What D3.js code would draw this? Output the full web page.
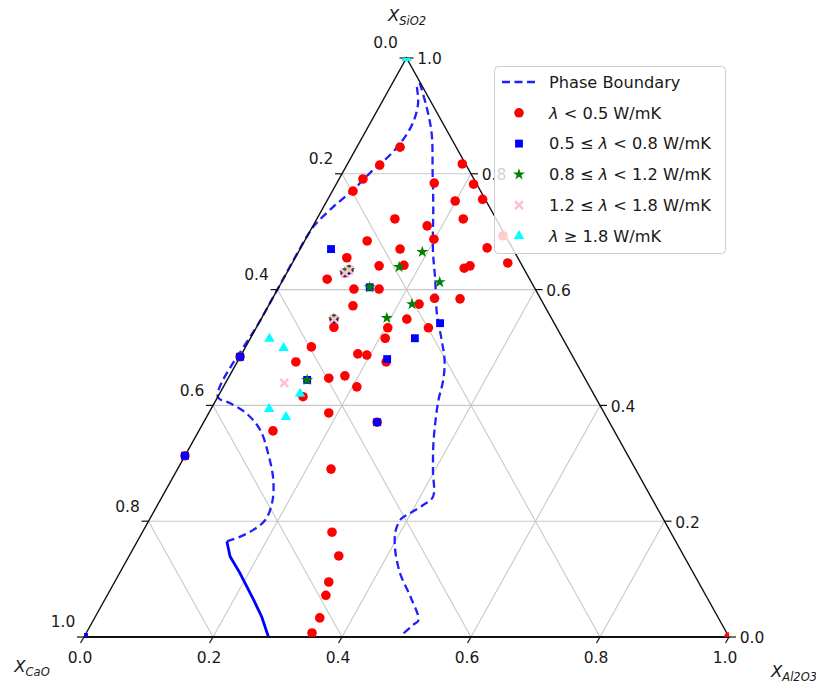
<!DOCTYPE html>
<html>
<head>
<meta charset="utf-8">
<script src="https://cdn.jsdelivr.net/npm/d3@7"></script>
<style>
  body { margin: 0; background: #fff; }
  svg { display: block; font-family: "DejaVu Sans", sans-serif; }
</style>
</head>
<body>
<svg id="chart" width="816" height="686"></svg>
<script>
// Compositions are [X_CaO, X_SiO2, X_Al2O3] mole fractions.
const lowK = [
  [0.087,0.846,0.067],[0.134,0.815,0.051],[0.172,0.791,0.037],[0.198,0.770,0.032],
  [0.005,0.817,0.178],[0.065,0.784,0.151],[0.005,0.782,0.213],[0.004,0.756,0.240],
  [0.048,0.753,0.199],[0.157,0.722,0.121],[0.113,0.710,0.177],[0.051,0.722,0.227],
  [0.114,0.687,0.199],[0.219,0.684,0.097],[0.175,0.670,0.155],[0.039,0.672,0.289],
  [0.265,0.655,0.080],[0.222,0.641,0.137],[0.183,0.642,0.175],[0.092,0.637,0.271],
  [0.081,0.641,0.278],[0.020,0.646,0.334],[0.004,0.693,0.303],[0.314,0.618,0.068],
  [0.281,0.601,0.118],[0.242,0.601,0.157],[0.297,0.572,0.131],[0.164,0.585,0.251],
  [0.125,0.584,0.291],[0.193,0.575,0.232],[0.225,0.549,0.226],[0.345,0.535,0.120],
  [0.262,0.534,0.204],[0.199,0.534,0.267],[0.275,0.516,0.209],[0.397,0.501,0.102],
  [0.331,0.489,0.180],[0.318,0.487,0.195],[0.294,0.475,0.231],[0.434,0.475,0.091],
  [0.397,0.447,0.156],[0.370,0.451,0.179],[0.361,0.432,0.207],[0.453,0.415,0.132],
  [0.427,0.387,0.186],[0.529,0.356,0.115],[0.472,0.290,0.238],[0.525,0.181,0.294],
  [0.535,0.140,0.325],[0.573,0.095,0.332],[0.589,0.072,0.339],[0.618,0.033,0.349],
  [0.643,0.007,0.350],[0.000,0.000,1.000],[0.516,0.484,0.000],[0.687,0.313,0.000],
  [0.272,0.634,0.094],[0.281,0.629,0.090],[0.338,0.549,0.113],[0.360,0.371,0.269]
];
const midLowK = [
  [0.282,0.670,0.048],[0.255,0.604,0.141],[0.177,0.542,0.281],[0.229,0.516,0.255],
  [0.290,0.480,0.230],[0.432,0.444,0.124],[0.360,0.371,0.269],[0.516,0.484,0.000],
  [0.687,0.313,0.000],[1.000,0.000,0.000],[0.272,0.634,0.094],[0.281,0.629,0.090],
  [0.338,0.549,0.113]
];
const midK = [
  [0.143,0.665,0.192],[0.192,0.639,0.169],[0.142,0.613,0.245],[0.204,0.575,0.221],
  [0.255,0.551,0.194],[0.255,0.604,0.141],[0.432,0.444,0.124],[0.272,0.634,0.094],
  [0.281,0.629,0.090],[0.338,0.549,0.113]
];
const midHighK = [
  [0.470,0.439,0.091],[0.272,0.634,0.094],[0.281,0.629,0.090],[0.338,0.549,0.113]
];
const highK = [
  [0.455,0.515,0.030],[0.441,0.499,0.060],[0.455,0.420,0.125],[0.516,0.394,0.090],
  [0.497,0.380,0.123],[0.000,1.000,0.000]
];

// Phase boundary traces
const boundaryDashed = [
  [0.009,0.950,0.041],[0.021,0.922,0.057],[0.046,0.888,0.066],[0.077,0.858,0.065],
  [0.110,0.832,0.058],[0.148,0.807,0.045],[0.197,0.772,0.031],[0.242,0.743,0.015],
  [0.286,0.712,0.002],[0.302,0.698,0.000],[0.450,0.550,0.000],[0.585,0.415,0.000],
  [0.572,0.404,0.024],[0.555,0.386,0.059],[0.548,0.358,0.094],[0.556,0.317,0.127],
  [0.571,0.271,0.158],[0.593,0.231,0.176],[0.618,0.202,0.180],[0.645,0.185,0.170],
  [0.672,0.173,0.155],[0.696,0.165,0.139]
];
const boundarySolid = [
  [0.696,0.165,0.139],[0.704,0.139,0.157],[0.703,0.110,0.187],[0.704,0.087,0.209],
  [0.705,0.064,0.231],[0.707,0.035,0.258],[0.714,0.000,0.286]
];
const boundaryRight = [
  [0.001,0.957,0.042],[0.011,0.916,0.073],[0.026,0.870,0.104],[0.059,0.801,0.140],
  [0.087,0.743,0.170],[0.125,0.668,0.207],[0.147,0.617,0.236],[0.173,0.560,0.267],
  [0.189,0.513,0.298],[0.202,0.478,0.320],[0.221,0.444,0.335],[0.246,0.409,0.345],
  [0.271,0.369,0.360],[0.294,0.329,0.377],[0.315,0.288,0.397],[0.338,0.242,0.420],
  [0.360,0.228,0.412],[0.387,0.214,0.399],[0.405,0.205,0.390],[0.424,0.185,0.391],
  [0.440,0.156,0.404],[0.455,0.110,0.435],[0.459,0.070,0.471],[0.467,0.029,0.504],
  [0.479,0.021,0.500],[0.502,0.006,0.492],[0.510,0.000,0.490]
];

const tickValues = [0, 0.2, 0.4, 0.6, 0.8, 1.0];
const gridValues = [0.2, 0.4, 0.6, 0.8];
const legendLabels = [
  "Phase Boundary",
  ["λ", " < 0.5 W/mK"],
  ["0.5 ≤ ", "λ", " < 0.8 W/mK"],
  ["0.8 ≤ ", "λ", " < 1.2 W/mK"],
  ["1.2 ≤ ", "λ", " < 1.8 W/mK"],
  ["λ", " ≥ 1.8 W/mK"]
];

const svg = d3.select("#chart");
const fmt = d3.format(".1f");

// Projection of the ternary simplex onto the page
const x = d3.scaleLinear().domain([0, 1]).range([84, 729]);
const y = d3.scaleLinear().domain([0, 1]).range([637, 58]);
const proj = ([c, s, a]) => [x(a + s / 2), y(s)];

svg.append("defs").append("clipPath").attr("id", "plotClip")
  .append("rect").attr("x", x(0)).attr("y", y(1))
  .attr("width", x(1) - x(0)).attr("height", y(0) - y(1));

// Grid
const grid = svg.append("g").attr("stroke", "#c8c8c8").attr("stroke-width", 1.1);
gridValues.forEach(v => {
  const segs = [
    [[1 - v, v, 0], [0, v, 1 - v]],
    [[1 - v, 0, v], [0, 1 - v, v]],
    [[v, 0, 1 - v], [v, 1 - v, 0]]
  ];
  segs.forEach(([p, q]) => {
    const [x1, y1] = proj(p), [x2, y2] = proj(q);
    grid.append("line").attr("x1", x1).attr("y1", y1).attr("x2", x2).attr("y2", y2);
  });
});

// Phase boundaries
const dash = "8,4.5";
const line = d3.line().x(d => proj(d)[0]).y(d => proj(d)[1]).curve(d3.curveCatmullRom.alpha(0.5));
const pb = svg.append("g").attr("clip-path", "url(#plotClip)").attr("fill", "none").attr("stroke", "#1f1fff");
pb.append("path").attr("d", line(boundaryDashed)).attr("stroke-width", 2.3).attr("stroke-dasharray", dash);
pb.append("path").attr("d", line(boundaryRight)).attr("stroke-width", 2.3).attr("stroke-dasharray", dash);
pb.append("path").attr("d", d3.line().x(d => proj(d)[0]).y(d => proj(d)[1])(boundarySolid))
  .attr("stroke-width", 2.8).attr("stroke", "#0000ff");

// Triangle outline
const corners = [[1, 0, 0], [0, 1, 0], [0, 0, 1]].map(proj);
svg.append("path")
  .attr("d", "M" + corners.map(p => p.join(",")).join("L") + "Z")
  .attr("fill", "none").attr("stroke", "#111").attr("stroke-width", 1.4);
svg.append("line").attr("x1", x(0)).attr("x2", x(1)).attr("y1", y(0)).attr("y2", y(0))
  .attr("stroke", "#111").attr("stroke-width", 2);

// Ticks and tick labels
const ticks = svg.append("g").attr("stroke", "#111").attr("stroke-width", 1.2);
const labels = svg.append("g").attr("font-size", 15.5).attr("fill", "#1a1a1a")
  .attr("text-anchor", "middle");
tickValues.forEach(v => {
  // left: X_CaO
  let [px, py] = proj([v, 1 - v, 0]);
  ticks.append("line").attr("x1", px).attr("y1", py).attr("x2", px - 7).attr("y2", py);
  labels.append("text").attr("x", px - 21).attr("y", py - 15).attr("dy", "0.35em").text(fmt(v));
  // right: X_SiO2
  [px, py] = proj([0, v, 1 - v]);
  ticks.append("line").attr("x1", px).attr("y1", py).attr("x2", px + 7).attr("y2", py);
  labels.append("text").attr("x", px + 23).attr("y", py + 1).attr("dy", "0.35em").text(fmt(v));
  // bottom: X_Al2O3
  [px, py] = proj([1 - v, 0, v]);
  ticks.append("line").attr("x1", px).attr("y1", py).attr("x2", px - 3.5).attr("y2", py + 6);
  labels.append("text").attr("x", px - 4).attr("y", py + 21).attr("dy", "0.35em").text(fmt(v));
});

// Corner titles
function cornerTitle(cx, cy, sub) {
  const t = svg.append("text").attr("x", cx).attr("y", cy).attr("text-anchor", "middle")
    .attr("font-style", "italic").attr("fill", "#1a1a1a");
  t.append("tspan").attr("font-size", 16.5).text("X");
  t.append("tspan").attr("font-size", 11.5).attr("dy", 4).text(sub);
}
cornerTitle(407, 21, "SiO2");
cornerTitle(32, 672, "CaO");
cornerTitle(794, 677, "Al2O3");

// Markers
const shapes = {
  circle: g => g.append("circle").attr("r", 4.8),
  square: g => g.append("path").attr("d", d3.symbol(d3.symbolSquare, 62)()),
  star: g => g.append("path").attr("d", d3.symbol(d3.symbolStar, 44)()),
  cross: g => g.append("path").attr("d", "M-4,-4L4,4M-4,4L4,-4")
    .attr("fill", "none").attr("stroke-width", 2.4),
  triangle: g => g.append("path").attr("d", d3.symbol(d3.symbolTriangle, 48)())
};
const series = [
  { data: lowK, color: "#ff0000", shape: "circle" },
  { data: midLowK, color: "#0000ff", shape: "square" },
  { data: midK, color: "#008000", shape: "star" },
  { data: midHighK, color: "#ffc0cb", shape: "cross" },
  { data: highK, color: "#00ffff", shape: "triangle" }
];
const markLayer = svg.append("g").attr("clip-path", "url(#plotClip)");
series.forEach(sr => {
  markLayer.append("g").selectAll("g").data(sr.data).join("g")
    .attr("transform", d => `translate(${proj(d)[0]},${proj(d)[1]})`)
    .attr("fill", sr.color).attr("stroke", sr.color)
    .each(function () {
      const node = shapes[sr.shape](d3.select(this));
      if (sr.shape !== "cross") node.attr("stroke", "none");
    });
});

// Legend
const lg = svg.append("g");
lg.append("rect").attr("x", 494.5).attr("y", 66.5).attr("width", 231).attr("height", 187)
  .attr("rx", 4).attr("fill", "#fff").attr("fill-opacity", 0.8)
  .attr("stroke", "#cccccc");
const rowY = i => 82 + i * 30.8;
lg.append("line").attr("x1", 502).attr("x2", 536).attr("y1", rowY(0)).attr("y2", rowY(0))
  .attr("stroke", "#1f1fff").attr("stroke-width", 2.3).attr("stroke-dasharray", dash);
series.forEach((sr, i) => {
  const g = lg.append("g").attr("transform", `translate(519,${rowY(i + 1)})`)
    .attr("fill", sr.color).attr("stroke", sr.color);
  const node = shapes[sr.shape](g);
  if (sr.shape !== "cross") node.attr("stroke", "none");
});
legendLabels.forEach((lab, i) => {
  const t = lg.append("text").attr("x", 549).attr("y", rowY(i)).attr("dy", "0.36em")
    .attr("font-size", 16.2).attr("fill", "#1a1a1a");
  const parts = Array.isArray(lab) ? lab : [lab];
  parts.forEach(p => {
    const ts = t.append("tspan").text(p);
    if (p === "λ") ts.attr("font-style", "italic");
  });
});
</script>
</body>
</html>
